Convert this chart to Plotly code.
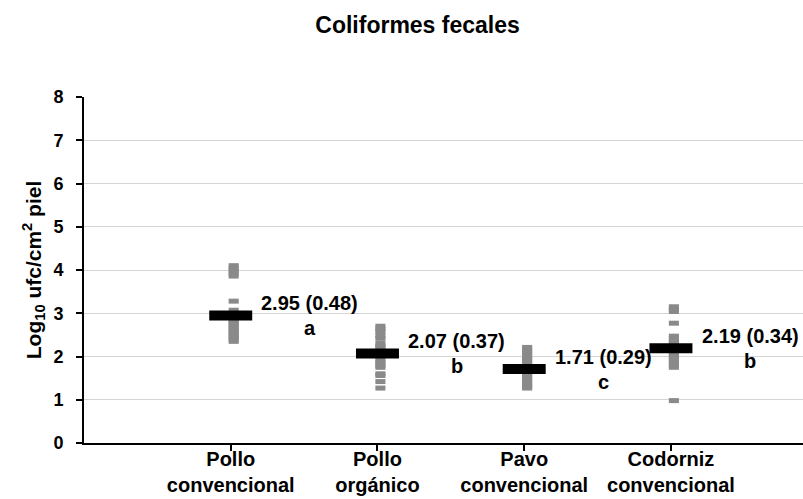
import plotly.graph_objects as go

categories = ["Pollo<br>convencional", "Pollo<br>orgánico", "Pavo<br>convencional", "Codorniz<br>convencional"]
cat_pos = [1, 2, 3, 4]

pollo_conv = [4.10, 4.04, 3.98, 3.92, 3.86, 3.28, 3.07, 3.00, 2.95, 2.90, 2.85, 2.80, 2.75, 2.70,
              2.65, 2.60, 2.55, 2.50, 2.45, 2.40, 2.35]
pollo_org = [2.70, 2.64, 2.58, 2.48, 2.42, 2.30, 2.24, 2.20, 2.10, 2.00, 1.92, 1.86, 1.80, 1.75,
             1.60, 1.56, 1.42, 1.27]
pavo_conv = [2.21, 2.15, 2.09, 2.03, 1.97, 1.91, 1.85, 1.79, 1.73, 1.67, 1.61, 1.55, 1.49, 1.43,
             1.37, 1.31, 1.27]
codorniz_conv = [3.15, 3.09, 3.04, 2.77, 2.47, 2.41, 2.35, 2.29, 2.23, 2.17, 2.11, 2.05, 1.99,
                 1.93, 1.87, 1.81, 1.75, 0.98]

means = [2.95, 2.07, 1.71, 2.19]
sds = [0.48, 0.37, 0.29, 0.34]
letters = ["a", "b", "c", "b"]

series = [pollo_conv, pollo_org, pavo_conv, codorniz_conv]

FONT = "Liberation Sans, Arial, sans-serif"
GRAY = "#8a8a8a"

fig = go.Figure()

for pos, vals in zip(cat_pos, series):
    fig.add_trace(go.Scatter(
        x=[pos + 0.02] * len(vals), y=vals, mode="markers",
        marker=dict(symbol="line-ew", size=7.2, line=dict(width=5, color=GRAY)),
        showlegend=False, hoverinfo="y",
    ))

fig.add_trace(go.Scatter(
    x=cat_pos, y=means, mode="markers",
    marker=dict(symbol="line-ew", size=30.7, line=dict(width=10, color="black")),
    showlegend=False, hoverinfo="y",
))

for pos, m, s, let in zip(cat_pos, means, sds, letters):
    fig.add_annotation(x=pos + 0.54, y=m, text=f"{m:.2f} ({s:.2f})", showarrow=False,
                       yshift=12, font=dict(family=FONT, size=20, color="black", weight="bold"))
    fig.add_annotation(x=pos + 0.54, y=m, text=let, showarrow=False,
                       yshift=-13, font=dict(family=FONT, size=20, color="black", weight="bold"))

fig.update_layout(
    width=803, height=499,
    margin=dict(l=84, r=0, t=97, b=56),
    paper_bgcolor="white", plot_bgcolor="white",
    font=dict(family=FONT, color="black"),
    title=dict(text="<b>Coliformes fecales</b>", x=0.52, xanchor="center",
               y=0.95, yanchor="middle", yref="container",
               font=dict(family=FONT, size=23, color="black")),
    xaxis=dict(range=[0, 4.9], tickvals=cat_pos, ticktext=categories, automargin=False,
               showgrid=False, zeroline=False, showline=True, linecolor="black", linewidth=2,
               ticks="outside", ticklen=6, tickwidth=1.5, tickcolor="black",
               ticklabelstandoff=-9,
               tickfont=dict(family=FONT, size=20, color="black", weight="bold")),
    yaxis=dict(range=[0, 8], dtick=1, showgrid=True, gridcolor="#d4d4d4", gridwidth=1,
               automargin=False,
               zeroline=False, showline=True, linecolor="black", linewidth=2,
               ticks="outside", ticklen=6, tickwidth=1.5, tickcolor="black",
               ticklabelstandoff=9,
               tickfont=dict(family=FONT, size=18, color="black", weight="bold"),
               title=dict(text="Log<sub>10</sub> ufc/cm<sup>2</sup> piel", standoff=6,
                          font=dict(family=FONT, size=21, color="black", weight="bold"))),
)

fig.write_html("out.html")
